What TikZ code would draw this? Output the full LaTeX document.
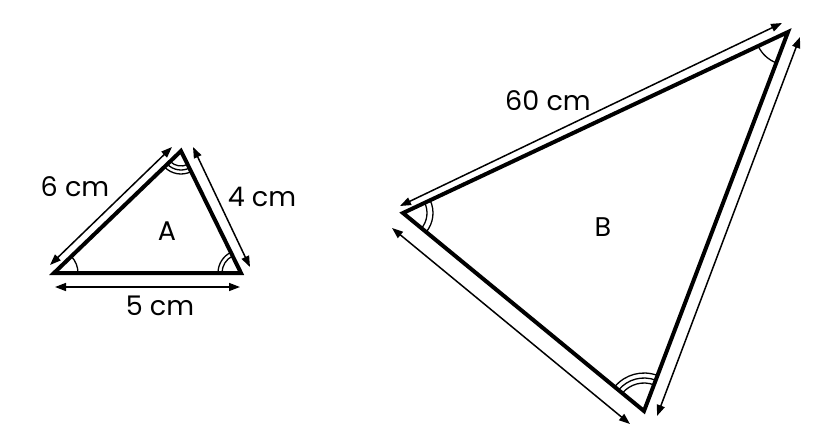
\documentclass[tikz,border=0pt]{standalone}
\usepackage{fontspec}
\setmainfont{Poppins}
\usetikzlibrary{arrows.meta,angles}
\begin{document}
\begin{tikzpicture}[x=1pt,y=-1pt,
  side/.style={line width=4pt,line join=miter},
  dimarrow/.style={line width=1.5pt,{Triangle[length=11pt,width=8pt]}-{Triangle[length=11pt,width=8pt]}},
  anglemark/.style={draw,line width=1.3pt},
  lbl/.style={font=\fontsize{27}{32}\selectfont,inner sep=0pt}]
\useasboundingbox (0,0) rectangle (828,437);
% Triangle A
\coordinate (a1) at (54,273);
\coordinate (a2) at (241,273);
\coordinate (a3) at (181,151);
\draw[side] (a1) -- (a2) -- (a3) -- cycle;
\coordinate (a6s) at (50,265);
\coordinate (a6e) at (172,147);
\coordinate (a5s) at (55,287);
\coordinate (a5e) at (240,287);
\coordinate (a4s) at (193,147);
\coordinate (a4e) at (250,267);
\draw[dimarrow] (a6s) -- (a6e);
\draw[dimarrow] (a5s) -- (a5e);
\draw[dimarrow] (a4s) -- (a4e);
\pic[anglemark,angle radius=24pt] {angle = a2--a1--a3};
\pic[anglemark,angle radius=19pt] {angle = a3--a2--a1};
\pic[anglemark,angle radius=23pt] {angle = a3--a2--a1};
\pic[anglemark,angle radius=15pt] {angle = a1--a3--a2};
\pic[anglemark,angle radius=19pt] {angle = a1--a3--a2};
\pic[anglemark,angle radius=23pt] {angle = a1--a3--a2};
\node[lbl] (l6) at (75,187) {6 cm};
\node[lbl] (l4) at (262,197) {4 cm};
\node[lbl] (l5) at (160,306) {5 cm};
\node[lbl] (lA) at (167,231) {A};
% Triangle B
\coordinate (b1) at (403,213);
\coordinate (b2) at (788,32);
\coordinate (b3) at (644,411);
\draw[side] (b1) -- (b2) -- (b3) -- cycle;
\coordinate (b60s) at (400,206);
\coordinate (b60e) at (782,23);
\coordinate (bls) at (392,228);
\coordinate (ble) at (630,424);
\coordinate (brs) at (800,37);
\coordinate (bre) at (657,416);
\draw[dimarrow] (b60s) -- (b60e);
\draw[dimarrow] (bls) -- (ble);
\draw[dimarrow] (brs) -- (bre);
\pic[anglemark,angle radius=24pt] {angle = b3--b1--b2};
\pic[anglemark,angle radius=30pt] {angle = b3--b1--b2};
\pic[anglemark,angle radius=33pt] {angle = b1--b2--b3};
\pic[anglemark,angle radius=28pt] {angle = b2--b3--b1};
\pic[anglemark,angle radius=33pt] {angle = b2--b3--b1};
\pic[anglemark,angle radius=38pt] {angle = b2--b3--b1};
\node[lbl] (l60) at (548,101) {60 cm};
\node[lbl] (lB) at (603,227) {B};
\end{tikzpicture}
\end{document}
